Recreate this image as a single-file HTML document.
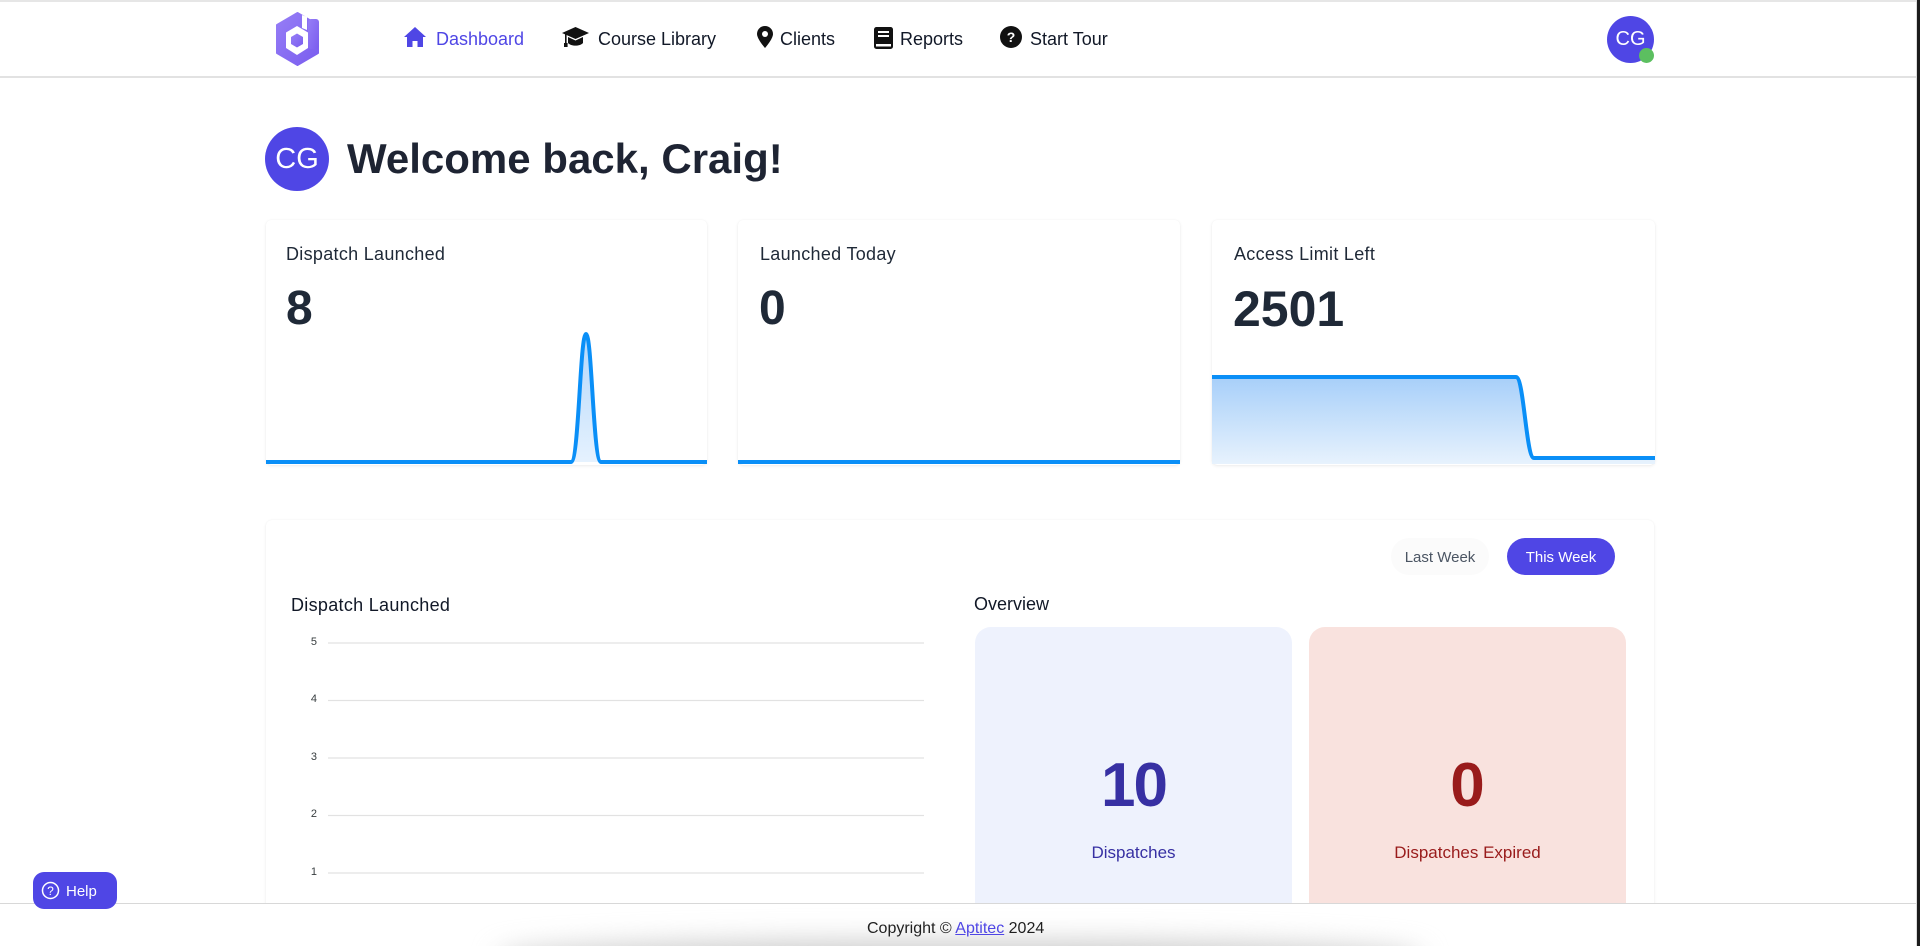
<!DOCTYPE html>
<html><head><meta charset="utf-8">
<style>
*{margin:0;padding:0;box-sizing:border-box}
html,body{width:1920px;height:946px;overflow:hidden;background:#fff;font-family:"Liberation Sans",Arial,sans-serif;color:#1f2937}
.a{position:absolute;white-space:nowrap;line-height:1}
.nav{font-size:18px;color:#111827;top:30px}
.card{position:absolute;top:220px;height:245px;background:#fff;border-radius:5px;box-shadow:0 1px 3px rgba(0,0,0,.08),0 0 1px rgba(0,0,0,.06)}
.lbl{font-size:18px;color:#1f2937;top:245px;letter-spacing:.3px}
.big{font-size:48px;font-weight:bold;color:#1f2937;top:285px}
.yl{font-size:11px;color:#373d3f;left:300px;width:17px;text-align:right}
</style></head><body>
<div style="position:relative;width:1920px;height:946px;overflow:hidden;background:#fff">

<!-- navbar -->
<div style="position:absolute;left:0;top:0;width:1917px;height:2px;background:#e6e6e6"></div>
<div style="position:absolute;left:0;top:76px;width:1917px;height:2px;background:#e2e2e2"></div>

<svg style="position:absolute;left:265px;top:8px" width="64" height="64" viewBox="0 0 64 64">
<defs><linearGradient id="lg" x1="0" y1="0" x2="1" y2="1"><stop offset="0" stop-color="#967ef6"/><stop offset="1" stop-color="#7a5def"/></linearGradient></defs>
<polygon points="32.5,5 53,17 53,45 32.5,57 12,45 12,17" fill="url(#lg)" stroke="url(#lg)" stroke-width="2" stroke-linejoin="round"/>
<polygon points="37,7 42,9 42,22 37,20" fill="#fff"/>
<polygon points="32,18 43,24.5 43,40 32,47 21,40 21,24.5" fill="#fff"/>
<rect x="43" y="11" width="11" height="30" rx="3" fill="url(#lg)"/>
<polygon points="32,25.5 38,29 38,36 32,39.5 26,36 26,29" fill="url(#lg)"/>
</svg>

<!-- nav icons -->
<svg style="position:absolute;left:404px;top:27px" width="22" height="20" viewBox="0 0 22 20"><path d="M11 0 L22 10 L19 10 L19 20 L13.5 20 L13.5 14 L8.5 14 L8.5 20 L3 20 L3 10 L0 10 Z" fill="#4f46e5"/></svg>
<div class="a nav" style="left:436px;color:#4f46e5">Dashboard</div>

<svg style="position:absolute;left:562px;top:27px" width="27" height="21" viewBox="0 0 27 21"><path d="M13.5 0 L27 6 L13.5 12 L0 6 Z" fill="#111"/><path d="M6 10 L6 16 C9 19.5 18 19.5 21 16 L21 10 L13.5 13.5 Z" fill="#111"/><rect x="3" y="6" width="1.6" height="11" fill="#111"/><rect x="2" y="16" width="3.6" height="4" fill="#111"/></svg>
<div class="a nav" style="left:598px">Course Library</div>

<svg style="position:absolute;left:757px;top:26px" width="16" height="22" viewBox="0 0 16 22"><path d="M8 0 C3.5 0 0 3.5 0 8 C0 13 8 22 8 22 C8 22 16 13 16 8 C16 3.5 12.5 0 8 0 Z" fill="#111"/><circle cx="8" cy="8" r="3" fill="#fff"/></svg>
<div class="a nav" style="left:780px">Clients</div>

<svg style="position:absolute;left:873px;top:27px" width="21" height="22" viewBox="0 0 21 22"><rect x="1" y="0" width="19" height="22" rx="2.5" fill="#111"/><rect x="5" y="4" width="11" height="2" fill="#fff"/><rect x="5" y="8" width="11" height="2" fill="#fff"/><rect x="3" y="17" width="15" height="2.5" fill="#fff"/></svg>
<div class="a nav" style="left:900px">Reports</div>

<svg style="position:absolute;left:1000px;top:26px" width="22" height="22" viewBox="0 0 22 22"><circle cx="11" cy="11" r="11" fill="#111"/><text x="11" y="16" font-family="Liberation Sans" font-weight="bold" font-size="14" fill="#fff" text-anchor="middle">?</text></svg>
<div class="a nav" style="left:1030px">Start Tour</div>

<!-- nav avatar -->
<div style="position:absolute;left:1607px;top:16px;width:47px;height:47px;border-radius:50%;background:#4f46e5;color:#fff;font-size:20px;line-height:47px;text-align:center">CG</div>
<div style="position:absolute;left:1639px;top:48px;width:15px;height:15px;border-radius:50%;background:#5cbf60"></div>

<!-- right window edge -->
<div style="position:absolute;left:1916px;top:0;width:1px;height:946px;background:#dcdcdc"></div>
<div style="position:absolute;left:1917px;top:0;width:3px;height:946px;background:#1c1c1c"></div>

<!-- welcome -->
<div style="position:absolute;left:265px;top:127px;width:64px;height:64px;border-radius:50%;background:#4f46e5;color:#fff;font-size:29px;line-height:64px;text-align:center">CG</div>
<div class="a" style="left:347px;top:138px;font-size:42px;font-weight:bold;color:#1e2433">Welcome back, Craig!</div>

<!-- stat cards -->
<div class="card" style="left:266px;width:441px"></div>
<div class="card" style="left:738px;width:442px"></div>
<div class="card" style="left:1212px;width:443px"></div>

<div class="a lbl" style="left:286px">Dispatch Launched</div>
<div class="a big" style="left:286px">8</div>
<div class="a lbl" style="left:760px">Launched Today</div>
<div class="a big" style="left:759px">0</div>
<div class="a lbl" style="left:1234px">Access Limit Left</div>
<div class="a big" style="left:1233px;font-size:50px;top:284px">2501</div>

<svg style="position:absolute;left:0;top:0" width="1920" height="946">
<defs>
<linearGradient id="f1" x1="0" y1="334" x2="0" y2="464" gradientUnits="userSpaceOnUse"><stop offset="0" stop-color="#b3d7fb"/><stop offset="1" stop-color="#e6f2fe"/></linearGradient>
<linearGradient id="f3" x1="0" y1="377" x2="0" y2="464" gradientUnits="userSpaceOnUse"><stop offset="0" stop-color="#a7cff9"/><stop offset="1" stop-color="#e7f2fd"/></linearGradient>
</defs>
<path d="M571,462 C579,462 580,334 586,334 C592,334 593,462 601,462 Z" fill="url(#f1)"/>
<path d="M266,462 L571,462 C579,462 580,334 586,334 C592,334 593,462 601,462 L707,462" fill="none" stroke="#0a8ff7" stroke-width="4"/>
<path d="M738,462 L1180,462" stroke="#0a8ff7" stroke-width="4"/>
<path d="M1212,377 L1516,377 C1524,377 1526,458 1534,458 L1655,458 L1655,464 L1212,464 Z" fill="url(#f3)"/>
<path d="M1212,377 L1516,377 C1524,377 1526,458 1534,458 L1655,458" fill="none" stroke="#0a8ff7" stroke-width="4"/>
</svg>

<!-- bottom card -->
<div style="position:absolute;left:266px;top:520px;width:1388px;height:426px;background:#fff;border-radius:6px 6px 0 0;box-shadow:0 1px 3px rgba(0,0,0,.07),0 0 1px rgba(0,0,0,.07)"></div>

<div style="position:absolute;left:1391px;top:538px;width:98px;height:37px;border-radius:18px;background:#fbfbfb"></div>
<div class="a" style="left:1391px;top:550px;width:98px;text-align:center;font-size:15px;color:#4b5563">Last Week</div>
<div style="position:absolute;left:1507px;top:538px;width:108px;height:37px;border-radius:19px;background:#4f46e5"></div>
<div class="a" style="left:1507px;top:550px;width:108px;text-align:center;font-size:15px;color:#fff">This Week</div>

<div class="a" style="left:291px;top:596px;font-size:18px;color:#111827;letter-spacing:.3px">Dispatch Launched</div>
<div class="a" style="left:974px;top:595px;font-size:18px;color:#111827">Overview</div>

<svg style="position:absolute;left:0;top:0" width="1920" height="946">
<g stroke="#e2e2e2" stroke-width="1.2">
<line x1="328" y1="643" x2="924" y2="643"/>
<line x1="328" y1="700.5" x2="924" y2="700.5"/>
<line x1="328" y1="758" x2="924" y2="758"/>
<line x1="328" y1="815.5" x2="924" y2="815.5"/>
<line x1="328" y1="873" x2="924" y2="873"/>
</g>
</svg>
<div class="a yl" style="top:637px">5</div>
<div class="a yl" style="top:694px">4</div>
<div class="a yl" style="top:752px">3</div>
<div class="a yl" style="top:809px">2</div>
<div class="a yl" style="top:867px">1</div>

<div style="position:absolute;left:975px;top:627px;width:317px;height:319px;border-radius:16px 16px 0 0;background:#eef2fd"></div>
<div style="position:absolute;left:1309px;top:627px;width:317px;height:319px;border-radius:16px 16px 0 0;background:#f9e2de"></div>
<div class="a" style="left:975px;top:755px;width:317px;text-align:center;font-size:62px;font-weight:bold;color:#3730a3;letter-spacing:-2px">10</div>
<div class="a" style="left:1309px;top:755px;width:317px;text-align:center;font-size:62px;font-weight:bold;color:#991b1b">0</div>
<div class="a" style="left:975px;top:844px;width:317px;text-align:center;font-size:17px;color:#3730a3">Dispatches</div>
<div class="a" style="left:1309px;top:844px;width:317px;text-align:center;font-size:17px;color:#991b1b">Dispatches Expired</div>

<!-- footer -->
<div style="position:absolute;left:0;top:903px;width:1916px;height:43px;background:#fff;border-top:1.5px solid #d8d8d8"></div>
<div style="position:absolute;left:500px;top:942px;width:920px;height:40px;background:#c9c9c9;border-radius:40%;filter:blur(14px)"></div>
<div class="a" style="left:867px;top:921px;font-size:16px;color:#1f1f1f">Copyright © <span style="color:#4f46e5;text-decoration:underline">Aptitec</span> 2024</div>

<!-- help -->
<div style="position:absolute;left:33px;top:872px;width:84px;height:37px;border-radius:11px;background:#4f46e5"></div>
<svg style="position:absolute;left:41px;top:881px" width="19" height="19" viewBox="0 0 19 19"><circle cx="9.5" cy="9.5" r="8" fill="none" stroke="#fff" stroke-width="1.5"/><text x="9.5" y="14" font-family="Liberation Sans" font-size="12" fill="#fff" text-anchor="middle">?</text></svg>
<div class="a" style="left:66px;top:884px;font-size:15px;color:#fff">Help</div>

</div>
</body></html>
